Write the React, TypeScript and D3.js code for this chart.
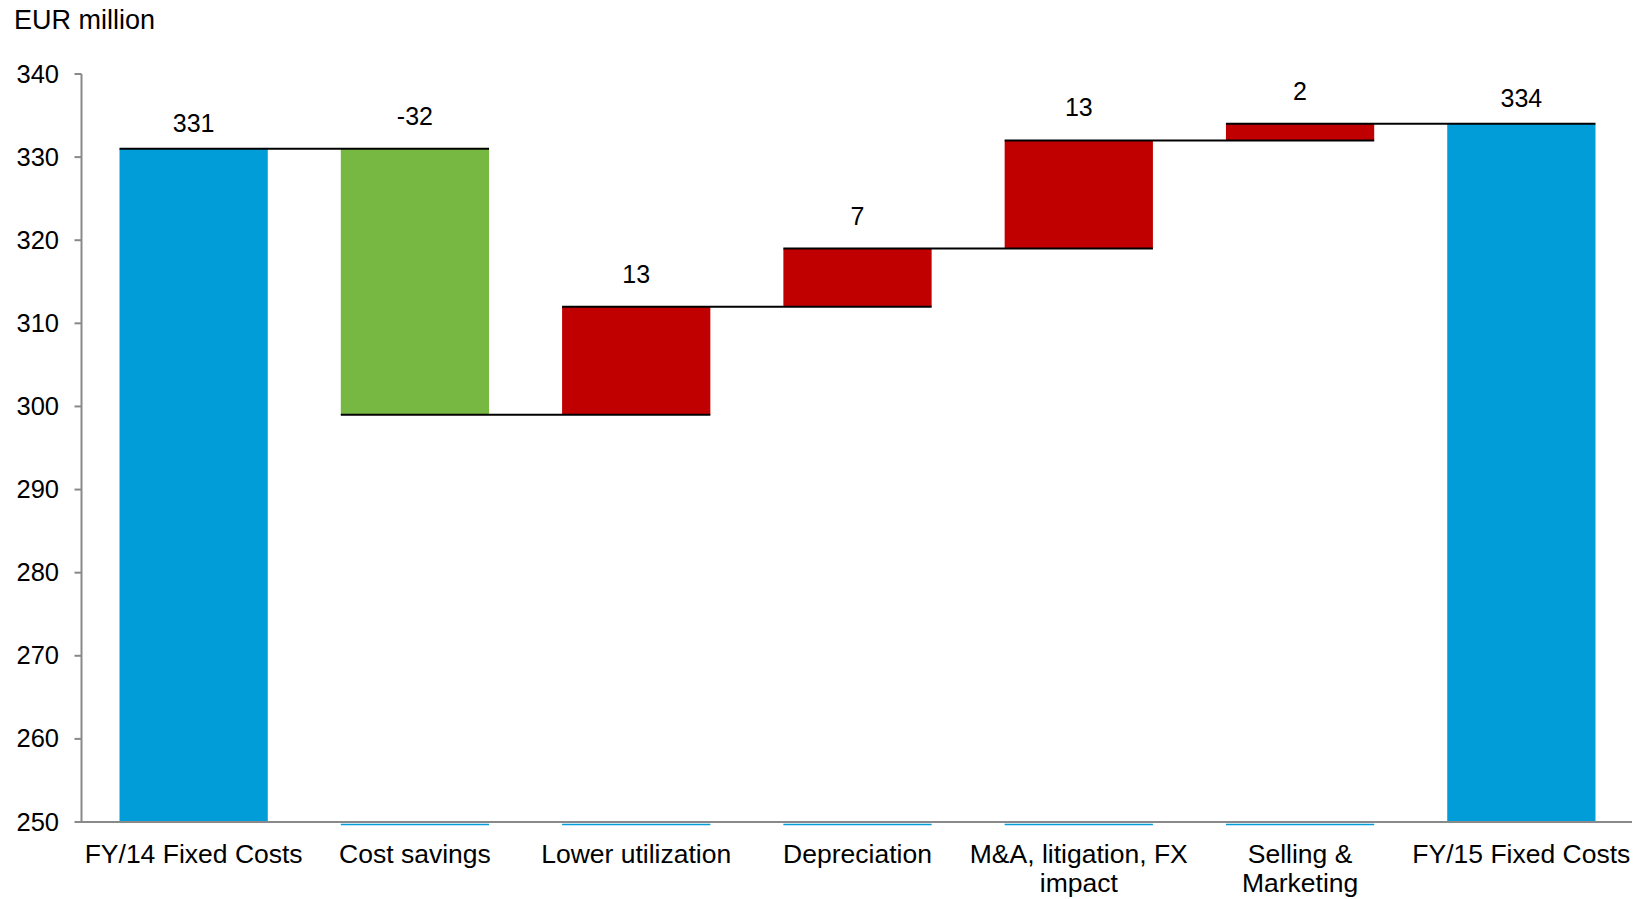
import React from "react";
import * as d3 from "d3";

const categories = [
  "FY/14 Fixed Costs",
  "Cost savings",
  "Lower utilization",
  "Depreciation",
  "M&A, litigation, FX\nimpact",
  "Selling &\nMarketing",
  "FY/15 Fixed Costs",
];
const values = [331, -32, 13, 7, 13, 2, 334];
const barTypes = ["total", "decrease", "increase", "increase", "increase", "increase", "total"];
const yTickValues = [250, 260, 270, 280, 290, 300, 310, 320, 330, 340];
const unitLabel = "EUR million";

const W = 1648;
const H = 899;
const FONT = "'Liberation Sans', Arial, sans-serif";
const colorMap: Record<string, string> = {
  total: "#009DD9",
  decrease: "#77B843",
  increase: "#C00000",
};
const axisColor = "#898989";

export default function App() {
  const yMin = yTickValues[0];
  const yMax = yTickValues[yTickValues.length - 1];
  const axisX = 81.5;
  const x = d3
    .scaleBand<string>()
    .domain(categories)
    .range([83, 1632])
    .paddingInner(0.33)
    .paddingOuter(0.165);
  const y = d3.scaleLinear().domain([yMin, yMax]).range([822, 74]);
  const bw = x.bandwidth();

  let run = 0;
  const bars = values.map((v, i) => {
    const type = barTypes[i];
    let start: number, end: number;
    if (type === "total") {
      start = yMin;
      end = v;
    } else {
      start = run;
      end = run + v;
    }
    run = end;
    return { cat: categories[i], v, type, start, end };
  });

  return (
    <svg
      width={W}
      height={H}
      style={{ position: "absolute", left: 0, top: 0, display: "block", background: "#fff" }}
      fontFamily={FONT}
    >
      {/* unit label */}
      <text x={14} y={29} fontSize={27} fill="#000">
        {unitLabel}
      </text>

      {/* faint blue base remnants of invisible bars */}
      {bars.map((b, i) =>
        b.type !== "total" ? (
          <line
            key={"base" + i}
            x1={x(b.cat)!}
            x2={x(b.cat)! + bw}
            y1={y(yMin) + 2.5}
            y2={y(yMin) + 2.5}
            stroke={colorMap.total}
            strokeWidth={1.5}
          />
        ) : null
      )}

      {/* bars */}
      {bars.map((b, i) => {
        const top = y(Math.max(b.start, b.end));
        const bottom = y(Math.min(b.start, b.end));
        return (
          <rect
            key={"bar" + i}
            x={x(b.cat)!}
            y={top}
            width={bw}
            height={bottom - top}
            fill={colorMap[b.type]}
          />
        );
      })}

      {/* connectors */}
      {bars.slice(0, -1).map((b, i) => {
        const lvl = y(b.end);
        return (
          <line
            key={"conn" + i}
            x1={x(b.cat)!}
            x2={x(categories[i + 1])! + bw}
            y1={lvl}
            y2={lvl}
            stroke="#000"
            strokeWidth={2}
          />
        );
      })}

      {/* axes */}
      <line x1={axisX} x2={axisX} y1={y(yMax)} y2={y(yMin)} stroke={axisColor} strokeWidth={2} />
      <line x1={axisX - 1} x2={1632} y1={y(yMin)} y2={y(yMin)} stroke={axisColor} strokeWidth={2} />
      {yTickValues.map((t) => (
        <g key={"t" + t}>
          <line x1={axisX - 7} x2={axisX} y1={y(t)} y2={y(t)} stroke={axisColor} strokeWidth={2} />
          <text x={59} y={y(t) + 8.5} fontSize={25.5} textAnchor="end" fill="#000">
            {t}
          </text>
        </g>
      ))}

      {/* value labels */}
      {bars.map((b, i) => {
        const top = y(Math.max(b.start, b.end));
        const off = b.type === "total" ? 17 : 24;
        return (
          <text
            key={"v" + i}
            x={x(b.cat)! + bw / 2}
            y={top - off}
            fontSize={25}
            textAnchor="middle"
            fill="#000"
          >
            {b.v}
          </text>
        );
      })}

      {/* category labels */}
      {categories.map((c, i) => (
        <text
          key={"c" + i}
          x={x(c)! + bw / 2}
          y={863}
          fontSize={26.5}
          textAnchor="middle"
          fill="#000"
        >
          {c.split("\n").map((ln, j) => (
            <tspan key={j} x={x(c)! + bw / 2} dy={j === 0 ? 0 : 29}>
              {ln}
            </tspan>
          ))}
        </text>
      ))}
    </svg>
  );
}
